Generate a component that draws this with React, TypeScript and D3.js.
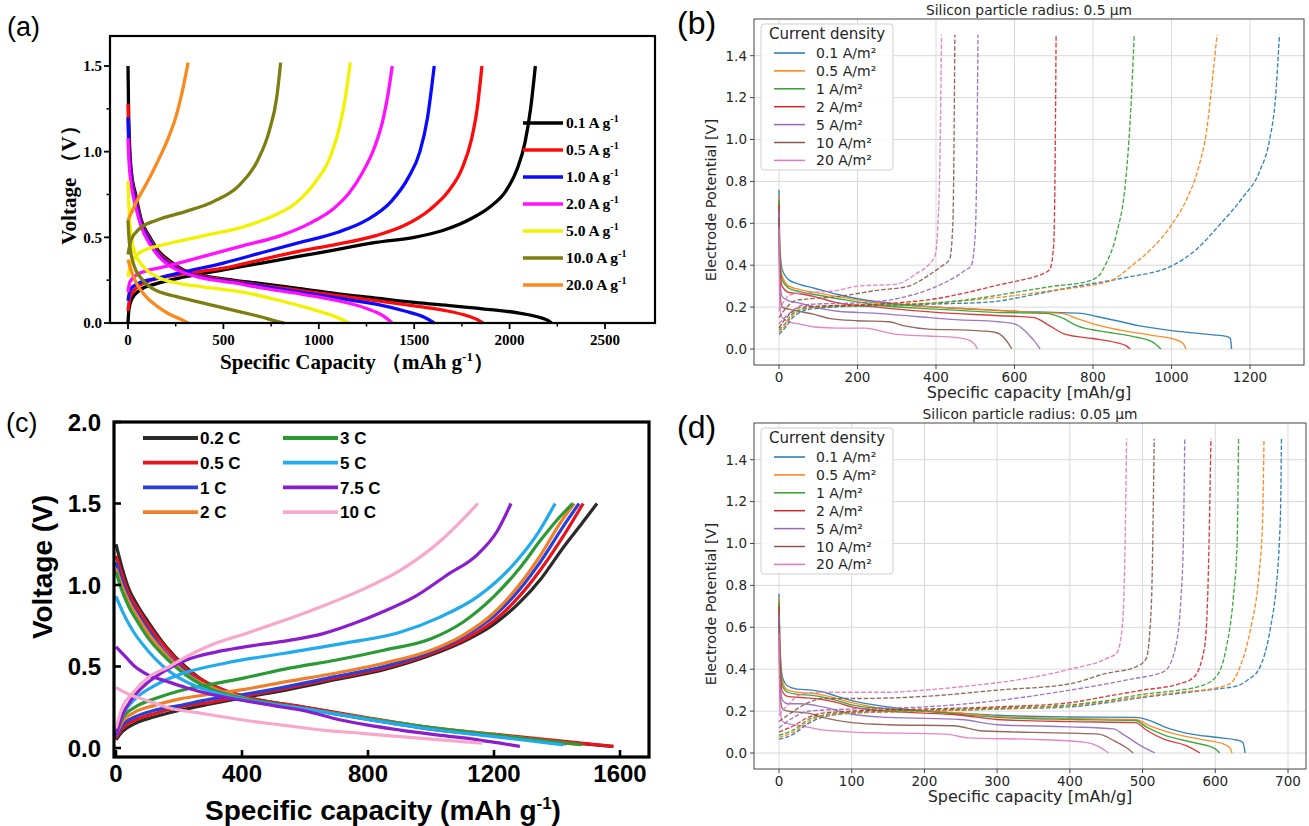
import React from "react";
import * as d3 from "d3";

type Pt = [number, number];

// ================= Panel (a) =================
const aRates = ["0.1", "0.5", "1.0", "2.0", "5.0", "10.0", "20.0"];
const aXTicks = [0, 500, 1000, 1500, 2000, 2500];
const aYTicks = [0, 0.5, 1.0, 1.5];
const aDischarge: Pt[][] = [
  [[0,1.5],[3,1.25],[8,1.05],[18,0.88],[40,0.75],[70,0.6],[115,0.5],[160,0.42],[210,0.37],[290,0.31],[380,0.28],[550,0.25],[700,0.23],[900,0.2],[1100,0.17],[1300,0.145],[1500,0.12],[1700,0.1],[1900,0.078],[2050,0.058],[2150,0.035],[2200,0.015],[2220,0.0]],
  [[0,1.28],[3,1.12],[8,0.99],[18,0.86],[40,0.73],[70,0.59],[115,0.49],[160,0.41],[210,0.36],[290,0.305],[380,0.275],[550,0.245],[700,0.22],[900,0.19],[1100,0.16],[1300,0.13],[1500,0.1],[1650,0.075],[1760,0.048],[1830,0.02],[1860,0.0]],
  [[0,1.2],[3,1.07],[8,0.96],[18,0.84],[40,0.71],[70,0.58],[115,0.48],[160,0.4],[210,0.35],[290,0.3],[380,0.27],[550,0.24],[700,0.215],[900,0.18],[1100,0.145],[1300,0.11],[1450,0.07],[1550,0.035],[1605,0.0]],
  [[0,1.08],[3,0.99],[8,0.9],[18,0.8],[40,0.68],[70,0.56],[115,0.46],[160,0.39],[210,0.34],[290,0.295],[380,0.265],[550,0.235],[700,0.205],[900,0.17],[1100,0.13],[1250,0.085],[1340,0.04],[1385,0.0]],
  [[0,0.83],[4,0.7],[10,0.58],[20,0.48],[40,0.4],[80,0.33],[150,0.27],[250,0.235],[400,0.21],[600,0.18],[800,0.13],[950,0.085],[1080,0.04],[1160,0.0]],
  [[0,0.6],[5,0.5],[15,0.41],[30,0.34],[70,0.26],[130,0.2],[250,0.155],[400,0.115],[550,0.075],[700,0.035],[780,0.01],[820,0.0]],
  [[0,0.37],[10,0.33],[25,0.28],[50,0.22],[90,0.16],[150,0.1],[220,0.05],[280,0.02],[315,0.0]],
];
const aCharge: Pt[][] = [
  [[0,0.0],[5,0.08],[20,0.14],[60,0.19],[150,0.23],[300,0.27],[500,0.31],[700,0.35],[900,0.39],[1100,0.43],[1300,0.47],[1500,0.5],[1650,0.54],[1800,0.61],[1900,0.68],[1980,0.77],[2040,0.9],[2080,1.05],[2110,1.25],[2135,1.5]],
  [[0,0.07],[10,0.15],[40,0.2],[100,0.24],[250,0.28],[500,0.32],[700,0.37],[900,0.42],[1100,0.46],[1300,0.51],[1450,0.57],[1580,0.66],[1680,0.77],[1750,0.9],[1800,1.07],[1830,1.25],[1855,1.5]],
  [[0,0.13],[10,0.19],[50,0.23],[150,0.26],[300,0.3],[500,0.35],[700,0.41],[900,0.47],[1100,0.53],[1250,0.6],[1380,0.71],[1470,0.85],[1530,1.0],[1570,1.2],[1605,1.5]],
  [[0,0.18],[10,0.24],[60,0.29],[200,0.33],[400,0.39],[600,0.45],[800,0.51],[950,0.58],[1080,0.67],[1160,0.76],[1230,0.88],[1290,1.02],[1335,1.18],[1362,1.33],[1385,1.5]],
  [[0,0.27],[15,0.35],[60,0.41],[200,0.46],[400,0.51],[600,0.56],[750,0.62],[880,0.7],[980,0.82],[1060,0.97],[1110,1.15],[1140,1.32],[1165,1.52]],
  [[0,0.4],[15,0.48],[60,0.55],[150,0.6],[300,0.65],[450,0.71],[580,0.8],[680,0.95],[740,1.12],[780,1.32],[800,1.52]],
  [[0,0.6],[50,0.72],[100,0.82],[150,0.93],[200,1.05],[250,1.2],[290,1.38],[315,1.52]],
];
const aColors = ["#000000", "#ff0a0a", "#0a0aff", "#ff10ff", "#f2f200", "#7d7d10", "#f98a1f"];

// ================= Panel (b) =================
const bRates = ["0.1 A/m²", "0.5 A/m²", "1 A/m²", "2 A/m²", "5 A/m²", "10 A/m²", "20 A/m²"];
const bXTicks = [0, 200, 400, 600, 800, 1000, 1200];
const mplYTicks = [0, 0.2, 0.4, 0.6, 0.8, 1.0, 1.2, 1.4];
const bDischarge: Pt[][] = [
  [[0,0.76],[2,0.5],[8,0.38],[25,0.33],[50,0.31],[90,0.29],[150,0.26],[200,0.24],[300,0.215],[400,0.2],[500,0.19],[600,0.18],[700,0.175],[770,0.17],[810,0.155],[860,0.135],[920,0.11],[1000,0.088],[1080,0.072],[1140,0.06],[1150,0.05],[1153,0.0]],
  [[0,0.73],[2,0.46],[8,0.35],[25,0.3],[50,0.285],[90,0.27],[150,0.25],[250,0.22],[400,0.2],[550,0.185],[650,0.175],[720,0.17],[760,0.145],[800,0.12],[870,0.09],[950,0.065],[1010,0.045],[1030,0.025],[1037,0.0]],
  [[0,0.71],[2,0.43],[8,0.33],[25,0.29],[50,0.275],[90,0.26],[150,0.24],[250,0.21],[400,0.19],[550,0.175],[680,0.17],[720,0.15],[760,0.11],[820,0.085],[900,0.06],[950,0.035],[973,0.0]],
  [[0,0.69],[2,0.4],[8,0.3],[25,0.27],[50,0.265],[90,0.25],[150,0.22],[250,0.2],[400,0.175],[550,0.16],[650,0.15],[690,0.11],[730,0.07],[800,0.05],[860,0.03],[885,0.015],[895,0.0]],
  [[0,0.66],[2,0.34],[8,0.25],[25,0.23],[50,0.22],[90,0.2],[150,0.18],[250,0.17],[350,0.155],[450,0.14],[560,0.13],[600,0.12],[625,0.09],[645,0.05],[660,0.015],[665,0.0]],
  [[0,0.62],[2,0.28],[8,0.2],[25,0.19],[50,0.18],[90,0.165],[130,0.145],[200,0.135],[280,0.13],[320,0.11],[380,0.095],[480,0.09],[550,0.08],[575,0.05],[590,0.01],[593,0.0]],
  [[0,0.58],[2,0.2],[8,0.15],[25,0.13],[50,0.12],[90,0.105],[150,0.1],[220,0.1],[260,0.085],[300,0.07],[380,0.062],[450,0.055],[480,0.045],[500,0.02],[505,0.0]],
];
const bCharge: Pt[][] = [
  [[0,0.07],[15,0.1],[35,0.15],[60,0.18],[100,0.195],[200,0.205],[300,0.21],[400,0.215],[540,0.225],[650,0.26],[760,0.3],[880,0.34],[1004,0.4],[1060,0.47],[1126,0.6],[1180,0.72],[1225,0.85],[1250,1.0],[1265,1.2],[1275,1.5]],
  [[0,0.08],[15,0.11],[35,0.16],[60,0.19],[100,0.2],[200,0.21],[300,0.215],[400,0.22],[500,0.235],[600,0.255],[700,0.28],[780,0.3],[850,0.33],[900,0.4],[950,0.48],[1003,0.6],[1040,0.72],[1068,0.86],[1090,1.05],[1105,1.3],[1116,1.5]],
  [[0,0.09],[15,0.12],[35,0.17],[60,0.19],[100,0.2],[200,0.205],[300,0.21],[400,0.22],[500,0.24],[600,0.27],[700,0.3],[780,0.32],[815,0.35],[831,0.4],[860,0.55],[883,0.8],[895,1.1],[905,1.5]],
  [[0,0.1],[15,0.14],[35,0.18],[60,0.2],[100,0.205],[200,0.21],[300,0.22],[400,0.24],[480,0.27],[570,0.31],[620,0.33],[660,0.35],[690,0.38],[700,0.5],[703,0.8],[706,1.5]],
  [[0,0.12],[20,0.16],[40,0.19],[60,0.21],[100,0.215],[200,0.22],[300,0.24],[390,0.29],[470,0.37],[490,0.4],[500,0.55],[504,0.9],[507,1.5]],
  [[0,0.15],[20,0.2],[40,0.23],[80,0.24],[150,0.25],[200,0.265],[250,0.28],[330,0.3],[380,0.35],[410,0.39],[435,0.43],[443,0.6],[446,1.0],[448,1.5]],
  [[0,0.18],[10,0.22],[30,0.26],[80,0.27],[150,0.28],[200,0.3],[300,0.31],[350,0.36],[380,0.4],[398,0.45],[405,0.6],[410,0.9],[414,1.5]],
];

// ================= Panel (c) =================
const cRates = ["0.2 C", "0.5 C", "1 C", "2 C", "3 C", "5 C", "7.5 C", "10 C"];
const cXTicks = [0, 400, 800, 1200, 1600];
const cYTicks = [0, 0.5, 1.0, 1.5, 2.0];
const cDischarge: Pt[][] = [
  [[0,1.25],[20,1.1],[40,0.98],[70,0.87],[100,0.78],[160,0.62],[220,0.5],[280,0.41],[350,0.35],[420,0.31],[600,0.25],[800,0.18],[1000,0.12],[1200,0.08],[1400,0.04],[1575,0.01]],
  [[0,1.18],[20,1.06],[40,0.95],[70,0.85],[100,0.76],[160,0.61],[220,0.49],[280,0.41],[350,0.35],[420,0.31],[600,0.25],[800,0.185],[1000,0.125],[1200,0.085],[1400,0.045],[1580,0.01]],
  [[0,1.14],[20,1.02],[40,0.92],[70,0.82],[100,0.73],[160,0.58],[220,0.47],[280,0.39],[350,0.34],[420,0.3],[600,0.24],[800,0.175],[1000,0.115],[1200,0.075],[1430,0.025]],
  [[0,1.1],[20,0.99],[40,0.9],[70,0.8],[100,0.71],[160,0.57],[220,0.46],[280,0.39],[350,0.34],[420,0.3],[600,0.24],[800,0.18],[1000,0.125],[1200,0.08],[1470,0.02]],
  [[0,1.08],[20,0.96],[40,0.87],[70,0.77],[100,0.68],[160,0.55],[220,0.45],[280,0.38],[350,0.33],[420,0.3],[600,0.24],[800,0.18],[1000,0.125],[1200,0.08],[1480,0.02]],
  [[0,0.93],[20,0.84],[50,0.73],[100,0.6],[150,0.5],[200,0.43],[280,0.36],[400,0.3],[600,0.24],[800,0.175],[1000,0.115],[1200,0.07],[1420,0.02]],
  [[0,0.62],[30,0.56],[60,0.5],[100,0.45],[160,0.41],[223,0.37],[300,0.33],[408,0.29],[500,0.26],[593,0.23],[717,0.17],[800,0.14],[902,0.11],[1020,0.08],[1149,0.05],[1282,0.01]],
  [[0,0.37],[40,0.33],[100,0.29],[161,0.25],[280,0.21],[408,0.17],[530,0.14],[655,0.11],[780,0.09],[902,0.07],[1030,0.05],[1162,0.03]],
];
const cCharge: Pt[][] = [
  [[0,0.05],[20,0.1],[60,0.15],[120,0.19],[200,0.23],[300,0.27],[408,0.31],[550,0.36],[700,0.42],[850,0.48],[1000,0.57],[1100,0.65],[1200,0.76],[1280,0.89],[1350,1.04],[1420,1.23],[1480,1.38],[1527,1.5]],
  [[0,0.06],[20,0.12],[60,0.17],[120,0.21],[200,0.25],[300,0.28],[408,0.32],[550,0.37],[700,0.43],[850,0.49],[1000,0.58],[1100,0.66],[1200,0.78],[1280,0.93],[1350,1.1],[1420,1.3],[1483,1.5]],
  [[0,0.07],[20,0.14],[60,0.19],[120,0.23],[200,0.26],[300,0.3],[408,0.33],[550,0.38],[700,0.44],[850,0.5],[1000,0.59],[1100,0.68],[1200,0.81],[1280,0.97],[1350,1.15],[1420,1.36],[1470,1.5]],
  [[0,0.08],[20,0.16],[60,0.22],[120,0.26],[200,0.3],[300,0.33],[408,0.36],[550,0.41],[700,0.46],[850,0.52],[1000,0.6],[1100,0.69],[1200,0.83],[1280,1.0],[1350,1.19],[1410,1.38],[1455,1.5]],
  [[0,0.09],[20,0.18],[60,0.25],[120,0.3],[200,0.35],[300,0.39],[408,0.43],[550,0.49],[700,0.54],[850,0.6],[1000,0.67],[1100,0.77],[1200,0.93],[1280,1.1],[1350,1.28],[1410,1.42],[1450,1.5]],
  [[0,0.1],[20,0.2],[60,0.3],[120,0.38],[161,0.42],[200,0.45],[346,0.52],[531,0.58],[717,0.64],[902,0.71],[1025,0.8],[1149,0.93],[1273,1.15],[1340,1.32],[1394,1.5]],
  [[0,0.08],[20,0.2],[50,0.3],[100,0.4],[160,0.48],[223,0.54],[320,0.59],[408,0.62],[550,0.66],[655,0.7],[750,0.76],[840,0.83],[950,0.93],[1050,1.06],[1149,1.19],[1210,1.33],[1254,1.5]],
  [[0,0.12],[20,0.25],[50,0.33],[100,0.43],[170,0.5],[223,0.56],[300,0.63],[408,0.7],[530,0.78],[655,0.87],[780,0.97],[902,1.09],[1030,1.27],[1149,1.5]],
];
const cColors = ["#2b2b2b", "#e8141b", "#2a3fd8", "#f07f2a", "#2a9a35", "#22aaee", "#8a1ecc", "#f7a6cc"];

// ================= Panel (d) =================
const dXTicks = [0, 100, 200, 300, 400, 500, 600, 700];
const dDischarge: Pt[][] = [
  [[0,0.76],[1.5,0.5],[5,0.36],[12,0.32],[25,0.305],[45,0.3],[62,0.29],[80,0.27],[100,0.25],[150,0.22],[200,0.2],[250,0.19],[300,0.18],[400,0.172],[490,0.17],[510,0.155],[530,0.125],[560,0.095],[600,0.075],[630,0.062],[638,0.05],[641,0.0]],
  [[0,0.74],[1.5,0.47],[5,0.34],[12,0.3],[25,0.29],[45,0.285],[62,0.275],[80,0.26],[100,0.24],[150,0.21],[200,0.2],[250,0.19],[300,0.175],[400,0.165],[490,0.16],[510,0.13],[540,0.095],[580,0.065],[610,0.045],[620,0.025],[623,0.0]],
  [[0,0.72],[1.5,0.44],[5,0.32],[12,0.29],[25,0.28],[45,0.275],[62,0.265],[80,0.25],[100,0.23],[150,0.21],[200,0.2],[300,0.17],[400,0.16],[490,0.155],[505,0.125],[530,0.085],[570,0.05],[600,0.02],[606,0.0]],
  [[0,0.7],[1.5,0.4],[5,0.29],[12,0.27],[30,0.265],[60,0.255],[80,0.24],[100,0.22],[150,0.2],[250,0.18],[300,0.16],[400,0.15],[490,0.145],[505,0.11],[530,0.065],[560,0.035],[579,0.0]],
  [[0,0.66],[1.5,0.33],[5,0.25],[12,0.235],[30,0.235],[60,0.22],[100,0.185],[150,0.17],[250,0.16],[300,0.135],[400,0.125],[460,0.115],[475,0.085],[495,0.04],[517,0.0]],
  [[0,0.62],[1.5,0.27],[5,0.21],[12,0.2],[40,0.19],[60,0.17],[100,0.145],[150,0.135],[240,0.13],[280,0.105],[400,0.095],[440,0.09],[460,0.06],[480,0.02],[487,0.0]],
  [[0,0.57],[1.5,0.2],[5,0.15],[12,0.14],[30,0.13],[60,0.11],[100,0.1],[230,0.09],[260,0.072],[350,0.065],[420,0.052],[440,0.03],[453,0.0]],
];
const dCharge: Pt[][] = [
  [[0,0.065],[20,0.09],[40,0.14],[60,0.17],[100,0.19],[200,0.2],[300,0.21],[400,0.22],[450,0.24],[500,0.265],[550,0.285],[600,0.305],[630,0.32],[645,0.35],[660,0.4],[676,0.6],[684,0.8],[688,1.0],[690,1.2],[691,1.5]],
  [[0,0.075],[20,0.1],[40,0.15],[60,0.175],[100,0.19],[200,0.2],[300,0.21],[400,0.225],[450,0.245],[500,0.27],[550,0.29],[600,0.31],[620,0.33],[635,0.42],[649,0.6],[660,0.85],[665,1.1],[667,1.5]],
  [[0,0.085],[20,0.11],[40,0.16],[60,0.18],[100,0.195],[200,0.205],[300,0.215],[400,0.23],[450,0.25],[500,0.28],[550,0.3],[580,0.32],[600,0.36],[615,0.5],[625,0.75],[630,1.0],[632,1.5]],
  [[0,0.1],[20,0.13],[40,0.17],[60,0.19],[100,0.2],[200,0.21],[300,0.22],[400,0.24],[450,0.27],[500,0.3],[550,0.33],[570,0.36],[585,0.5],[590,0.8],[594,1.5]],
  [[0,0.12],[20,0.17],[40,0.2],[100,0.21],[200,0.22],[300,0.25],[400,0.3],[480,0.35],[530,0.39],[545,0.5],[553,0.75],[556,1.0],[558,1.5]],
  [[0,0.15],[20,0.2],[40,0.24],[60,0.26],[100,0.26],[200,0.27],[300,0.3],[400,0.33],[450,0.38],[490,0.41],[505,0.45],[512,0.7],[516,1.5]],
  [[0,0.18],[15,0.24],[30,0.28],[60,0.29],[150,0.29],[200,0.3],[260,0.32],[330,0.35],[400,0.4],[450,0.45],[465,0.48],[472,0.6],[476,1.0],[478,1.5]],
];
const tab10 = ["#1f77b4", "#ff7f0e", "#2ca02c", "#d62728", "#9467bd", "#8c564b", "#e377c2"];

const mkLine = (x: d3.ScaleLinear<number, number>, y: d3.ScaleLinear<number, number>) =>
  d3.line<Pt>().x((d) => x(d[0])).y((d) => y(d[1])).curve(d3.curveMonotoneX);

// ---------------- Panel (a) ----------------
function PanelA() {
  const x = d3.scaleLinear().domain([0, 2500]).range([128, 605]);
  const y = d3.scaleLinear().domain([0, 1.5]).range([323, 66]);
  const line = mkLine(x, y);
  const L = 110, R = 655, T = 36, B = 323;
  const serif = "'Liberation Serif', 'Times New Roman', serif";
  const minorX = d3.range(250, 2600, 500);
  const minorY = [0.25, 0.75, 1.25];
  const legY = (i: number) => 123 + i * 27;
  return (
    <g>
      <text x={7} y={36} fontSize={27} fontFamily="'Liberation Sans', sans-serif">(a)</text>
      {aRates.map((r, i) => (
        <g key={r}>
          <path d={line(aDischarge[i]) || ""} fill="none" stroke={aColors[i]} strokeWidth={3.3} />
          <path d={line(aCharge[i]) || ""} fill="none" stroke={aColors[i]} strokeWidth={3.3} />
        </g>
      ))}
      <rect x={L} y={T} width={R - L} height={B - T} fill="none" stroke="#000" strokeWidth={2.2} />
      {aYTicks.map((t) => (
        <g key={t}>
          <line x1={L - 6} x2={L} y1={y(t)} y2={y(t)} stroke="#000" strokeWidth={1.8} />
          <text x={L - 8} y={y(t)} dy="0.35em" textAnchor="end" fontFamily={serif} fontWeight="bold" fontSize={15}>
            {t.toFixed(1)}
          </text>
        </g>
      ))}
      {minorY.map((t) => (
        <line key={t} x1={L - 3.5} x2={L} y1={y(t)} y2={y(t)} stroke="#000" strokeWidth={1.5} />
      ))}
      {aXTicks.map((t) => (
        <g key={t}>
          <line x1={x(t)} x2={x(t)} y1={B} y2={B + 6} stroke="#000" strokeWidth={1.8} />
          <text x={x(t)} y={B + 22} textAnchor="middle" fontFamily={serif} fontWeight="bold" fontSize={15}>
            {t}
          </text>
        </g>
      ))}
      {minorX.map((t) => (
        <line key={t} x1={x(t)} x2={x(t)} y1={B} y2={B + 3.5} stroke="#000" strokeWidth={1.5} />
      ))}
      <text x={357} y={369} textAnchor="middle" fontFamily={serif} fontWeight="bold" fontSize={21}>
        Specific Capacity （mAh g<tspan dy={-8} fontSize={13}>-1</tspan><tspan dy={8}>）</tspan>
      </text>
      <text transform="translate(76,180) rotate(-90)" textAnchor="middle" fontFamily={serif} fontWeight="bold" fontSize={21}>
        Voltage （V）
      </text>
      {aRates.map((r, i) => (
        <g key={"lg" + r}>
          <line x1={523} x2={563} y1={legY(i)} y2={legY(i)} stroke={aColors[i]} strokeWidth={3.6} />
          <text x={566} y={legY(i)} dy="0.35em" fontFamily={serif} fontWeight="bold" fontSize={15.5}>
            {r} A g<tspan dy={-6} fontSize={10}>-1</tspan>
          </text>
        </g>
      ))}
    </g>
  );
}

// ---------------- Panel (c) ----------------
function PanelC() {
  const x = d3.scaleLinear().domain([0, 1600]).range([116, 620]);
  const y = d3.scaleLinear().domain([0, 2.0]).range([748, 422]);
  const line = mkLine(x, y);
  const L = 114, R = 649, T = 422, B = 757;
  const sans = "'Liberation Sans', Arial, sans-serif";
  const legX = [143, 283];
  const legY = (i: number) => 438 + i * 24.7;
  return (
    <g>
      <text x={6} y={432} fontSize={27} fontFamily="'Liberation Sans', sans-serif">(c)</text>
      {cRates.map((r, i) => (
        <g key={r}>
          <path d={line(cDischarge[i]) || ""} fill="none" stroke={cColors[i]} strokeWidth={3.2} />
          <path d={line(cCharge[i]) || ""} fill="none" stroke={cColors[i]} strokeWidth={3.2} />
        </g>
      ))}
      <rect x={L} y={T} width={R - L} height={B - T} fill="none" stroke="#000" strokeWidth={3.2} />
      {cYTicks.map((t) => (
        <g key={t}>
          <line x1={L} x2={L + 7} y1={y(t)} y2={y(t)} stroke="#000" strokeWidth={2.6} />
          <text x={101} y={y(t)} dy="0.36em" textAnchor="end" fontFamily={sans} fontWeight="bold" fontSize={24}>
            {t.toFixed(1)}
          </text>
        </g>
      ))}
      {cXTicks.map((t) => (
        <g key={t}>
          <line x1={x(t)} x2={x(t)} y1={B} y2={B - 7} stroke="#000" strokeWidth={2.6} />
          <text x={x(t)} y={782} textAnchor="middle" fontFamily={sans} fontWeight="bold" fontSize={24}>
            {t}
          </text>
        </g>
      ))}
      <text x={383} y={820} textAnchor="middle" fontFamily={sans} fontWeight="bold" fontSize={28}>
        Specific capacity (mAh g<tspan dy={-11} fontSize={17}>-1</tspan><tspan dy={11}>)</tspan>
      </text>
      <text transform="translate(52,567) rotate(-90)" textAnchor="middle" fontFamily={sans} fontWeight="bold" fontSize={28}>
        Voltage (V)
      </text>
      {cRates.map((r, i) => {
        const col = Math.floor(i / 4);
        const row = i % 4;
        return (
          <g key={"lg" + r}>
            <line x1={legX[col]} x2={legX[col] + 55} y1={legY(row)} y2={legY(row)} stroke={cColors[i]} strokeWidth={3.8} />
            <text x={legX[col] + 57} y={legY(row)} dy="0.36em" fontFamily={sans} fontWeight="bold" fontSize={17}>
              {r}
            </text>
          </g>
        );
      })}
    </g>
  );
}

// ---------------- Panels (b),(d) matplotlib style ----------------
type MplProps = {
  top: number;
  bottom: number;
  left: number;
  right: number;
  xDom: [number, number];
  xRange: [number, number];
  y0: number;
  y14: number;
  xTicks: number[];
  title: string;
  letter: string;
  dis: Pt[][];
  chg: Pt[][];
};

function MplPanel(p: MplProps) {
  const x = d3.scaleLinear().domain(p.xDom).range(p.xRange);
  const y = d3.scaleLinear().domain([0, 1.4]).range([p.y0, p.y14]);
  const line = mkLine(x, y);
  const font = "'DejaVu Sans', sans-serif";
  const txt = "#262626";
  const cx = (p.left + p.right) / 2;
  const lgTop = p.top + 5;
  const entryY = (i: number) => lgTop + 29 + i * 17.9;
  return (
    <g>
      <text x={p.left - 77} y={p.top + 15} fontSize={32} fontFamily="'Liberation Sans', sans-serif">{p.letter}</text>
      <text x={cx} y={p.top - 4} textAnchor="middle" fontFamily={font} fontSize={13.8} fill={txt}>{p.title}</text>
      {p.xTicks.map((t) => (
        <line key={"gx" + t} x1={x(t)} x2={x(t)} y1={p.top} y2={p.bottom} stroke="#d9d9d9" strokeWidth={1} />
      ))}
      {mplYTicks.map((t) => (
        <line key={"gy" + t} x1={p.left} x2={p.right} y1={y(t)} y2={y(t)} stroke="#d9d9d9" strokeWidth={1} />
      ))}
      {p.dis.map((s, i) => (
        <path key={"d" + i} d={line(s) || ""} fill="none" stroke={tab10[i]} strokeWidth={1.35} opacity={0.9} />
      ))}
      {p.chg.map((s, i) => (
        <path key={"c" + i} d={line(s) || ""} fill="none" stroke={tab10[i]} strokeWidth={1.35} strokeDasharray="4.5 2" opacity={0.9} />
      ))}
      <rect x={p.left} y={p.top} width={p.right - p.left} height={p.bottom - p.top} fill="none" stroke="#444" strokeWidth={1} />
      {p.xTicks.map((t) => (
        <g key={"tx" + t}>
          <line x1={x(t)} x2={x(t)} y1={p.bottom} y2={p.bottom + 4} stroke="#444" />
          <text x={x(t)} y={p.bottom + 17} textAnchor="middle" fontFamily={font} fontSize={13.5} fill={txt}>{t}</text>
        </g>
      ))}
      {mplYTicks.map((t) => (
        <g key={"ty" + t}>
          <line x1={p.left - 4} x2={p.left} y1={y(t)} y2={y(t)} stroke="#444" />
          <text x={p.left - 7} y={y(t)} dy="0.36em" textAnchor="end" fontFamily={font} fontSize={13.5} fill={txt}>{t.toFixed(1)}</text>
        </g>
      ))}
      <text x={cx} y={p.bottom + 33} textAnchor="middle" fontFamily={font} fontSize={16} fill={txt}>Specific capacity [mAh/g]</text>
      <text transform={`translate(${p.left - 38},${(p.top + p.bottom) / 2 + 8}) rotate(-90)`} textAnchor="middle" fontFamily={font} fontSize={14.5} fill={txt}>
        Electrode Potential [V]
      </text>
      <rect x={p.left + 7} y={lgTop} width={132} height={146} rx={3} fill="#fff" fillOpacity={0.85} stroke="#cfcfcf" />
      <text x={p.left + 73} y={lgTop + 15} textAnchor="middle" fontFamily={font} fontSize={15} fill={txt}>Current density</text>
      {bRates.map((r, i) => (
        <g key={"l" + r}>
          <line x1={p.left + 20} x2={p.left + 51} y1={entryY(i)} y2={entryY(i)} stroke={tab10[i]} strokeWidth={1.5} />
          <text x={p.left + 62} y={entryY(i)} dy="0.36em" fontFamily={font} fontSize={14} fill={txt}>{r}</text>
        </g>
      ))}
    </g>
  );
}

export default function App() {
  return (
    <svg width={1309} height={826} style={{ position: "absolute", left: 0, top: 0, background: "#fff" }}>
      <rect width={1309} height={826} fill="#fff" />
      <PanelA />
      <PanelC />
      <MplPanel
        top={19} bottom={365} left={754} right={1304}
        xDom={[0, 1200]} xRange={[779, 1250]} y0={349} y14={55.7}
        xTicks={bXTicks} title="Silicon particle radius: 0.5 µm" letter="(b)"
        dis={bDischarge} chg={bCharge}
      />
      <MplPanel
        top={423} bottom={769} left={754} right={1306}
        xDom={[0, 700]} xRange={[779, 1288]} y0={753} y14={459.7}
        xTicks={dXTicks} title="Silicon particle radius: 0.05 µm" letter="(d)"
        dis={dDischarge} chg={dCharge}
      />
    </svg>
  );
}
